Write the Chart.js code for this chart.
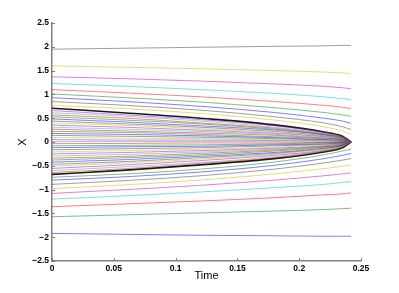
<!DOCTYPE html>
<html>
<head>
<meta charset="utf-8">
<script src="https://cdn.jsdelivr.net/npm/chart.js@4.4.1/dist/chart.umd.min.js"></script>
<style>
  html, body { margin: 0; padding: 0; background: #fff; }
  #wrap { width: 399px; height: 293px; }
</style>
</head>
<body>
<div id="wrap"><canvas id="chart"></canvas></div>
<script>
// sample times read along the time axis
const times = [0, 0.06, 0.12, 0.18, 0.22, 0.235, 0.242];

// paths below the black curve (bottom -> up)
const outerBottom = [
  [-1.92, -1.94, -1.96, -1.97, -1.98, -1.98, -1.98],
  [-1.57, -1.53, -1.49, -1.45, -1.42, -1.40, -1.39],
  [-1.36, -1.30, -1.24, -1.17, -1.11, -1.09, -1.07],
  [-1.20, -1.13, -1.05, -0.96, -0.89, -0.85, -0.83],
  [-1.08, -1.00, -0.91, -0.80, -0.71, -0.67, -0.65],
  [-0.98, -0.90, -0.80, -0.67, -0.56, -0.51, -0.48],
  [-0.89, -0.81, -0.71, -0.57, -0.44, -0.38, -0.35],
  [-0.80, -0.73, -0.63, -0.49, -0.35, -0.28, -0.24],
  [-0.74, -0.67, -0.57, -0.42, -0.27, -0.19, -0.15],
];

// paths inside the black curve, all meeting at the tip
const inner = [
  [-0.64, -0.56, -0.45, -0.33, -0.19, -0.11, 0],
  [-0.60, -0.52, -0.43, -0.31, -0.18, -0.10, 0],
  [-0.555, -0.48, -0.39, -0.28, -0.17, -0.09, 0],
  [-0.51, -0.44, -0.36, -0.26, -0.15, -0.09, 0],
  [-0.47, -0.41, -0.33, -0.24, -0.14, -0.08, 0],
  [-0.425, -0.37, -0.30, -0.22, -0.13, -0.07, 0],
  [-0.38, -0.33, -0.27, -0.19, -0.11, -0.06, 0],
  [-0.34, -0.30, -0.24, -0.17, -0.10, -0.06, 0],
  [-0.295, -0.26, -0.21, -0.15, -0.09, -0.05, 0],
  [-0.25, -0.22, -0.18, -0.13, -0.08, -0.04, 0],
  [-0.21, -0.18, -0.15, -0.11, -0.06, -0.04, 0],
  [-0.165, -0.14, -0.12, -0.08, -0.05, -0.03, 0],
  [-0.12, -0.10, -0.09, -0.06, -0.04, -0.02, 0],
  [-0.08, -0.07, -0.06, -0.04, -0.02, -0.01, 0],
  [-0.035, -0.03, -0.02, -0.02, -0.01, -0.01, 0],
  [0.01, 0.01, 0.01, 0.01, 0.00, 0.00, 0],
  [0.05, 0.04, 0.04, 0.03, 0.02, 0.01, 0],
  [0.095, 0.08, 0.07, 0.05, 0.03, 0.02, 0],
  [0.14, 0.12, 0.10, 0.07, 0.04, 0.02, 0],
  [0.18, 0.16, 0.13, 0.09, 0.05, 0.03, 0],
  [0.225, 0.20, 0.16, 0.11, 0.07, 0.04, 0],
  [0.27, 0.23, 0.19, 0.14, 0.08, 0.05, 0],
  [0.31, 0.27, 0.22, 0.16, 0.09, 0.05, 0],
  [0.355, 0.31, 0.25, 0.18, 0.11, 0.06, 0],
  [0.40, 0.35, 0.28, 0.20, 0.12, 0.07, 0],
  [0.44, 0.38, 0.31, 0.22, 0.13, 0.07, 0],
  [0.485, 0.42, 0.34, 0.25, 0.15, 0.08, 0],
  [0.53, 0.46, 0.38, 0.27, 0.16, 0.09, 0],
  [0.57, 0.50, 0.40, 0.29, 0.17, 0.10, 0],
  [0.615, 0.54, 0.44, 0.31, 0.18, 0.10, 0],
  [0.66, 0.57, 0.47, 0.34, 0.20, 0.11, 0],
];

// paths above the black curve (bottom -> up)
const outerTop = [
  [0.77, 0.70, 0.60, 0.46, 0.32, 0.23, 0.16],
  [0.85, 0.77, 0.67, 0.53, 0.40, 0.32, 0.26],
  [0.93, 0.85, 0.75, 0.62, 0.50, 0.44, 0.39],
  [1.01, 0.93, 0.84, 0.72, 0.62, 0.57, 0.54],
  [1.10, 1.03, 0.95, 0.85, 0.77, 0.73, 0.70],
  [1.23, 1.17, 1.10, 1.02, 0.95, 0.91, 0.89],
  [1.37, 1.33, 1.28, 1.22, 1.17, 1.14, 1.12],
  [1.60, 1.57, 1.54, 1.50, 1.47, 1.45, 1.43],
  [1.95, 1.97, 1.99, 2.01, 2.02, 2.03, 2.03],
];

// the thick black boundary
const boundaryTop = [0.71, 0.61, 0.50, 0.36, 0.21, 0.12, 0];
const boundaryBottom = [-0.68, -0.59, -0.48, -0.35, -0.21, -0.12, 0];

// matlab colour order b g r c m y k, drawn thin so they look faded
const lineColors = [
  'rgba(0,0,255,0.5)',
  'rgba(0,128,0,0.5)',
  'rgba(255,0,0,0.5)',
  'rgba(0,191,191,0.5)',
  'rgba(191,0,191,0.5)',
  'rgba(191,191,0,0.5)',
  'rgba(64,64,64,0.5)',
];

const toPoints = (ys) => ys.map((y, i) => ({ x: times[i], y }));

const paths = [...outerBottom, ...inner, ...outerTop];
const datasets = paths.map((p, i) => ({
  data: toPoints(p),
  borderColor: lineColors[i % lineColors.length],
  borderWidth: 1,
}));
datasets.push(
  { data: toPoints(boundaryTop), borderColor: '#1a1a1a', borderWidth: 1.6 },
  { data: toPoints(boundaryBottom), borderColor: '#1a1a1a', borderWidth: 1.6 }
);

// ticks pointing into the plot, like the original
const innerTicks = {
  id: 'innerTicks',
  afterDraw(chart) {
    const { ctx, chartArea, scales } = chart;
    ctx.save();
    ctx.strokeStyle = '#808080';
    ctx.lineWidth = 1;
    scales.x.ticks.forEach((t) => {
      const px = Math.round(scales.x.getPixelForValue(t.value)) + 0.5;
      ctx.beginPath();
      ctx.moveTo(px, chartArea.bottom);
      ctx.lineTo(px, chartArea.bottom - 3);
      ctx.stroke();
    });
    scales.y.ticks.forEach((t) => {
      const py = Math.round(scales.y.getPixelForValue(t.value)) + 0.5;
      ctx.beginPath();
      ctx.moveTo(chartArea.left, py);
      ctx.lineTo(chartArea.left + 3, py);
      ctx.stroke();
    });
    ctx.restore();
  },
};

const fmt = (v) => {
  const s = String(Math.round(v * 100) / 100);
  return s.replace('-', '\u2212');
};

const tickFont = { family: 'Liberation Sans, Arial, sans-serif', size: 8.5, weight: 'bold' };
const titleFont = { family: 'Liberation Sans, Arial, sans-serif', size: 11 };

new Chart(document.getElementById('chart').getContext('2d'), {
  type: 'line',
  data: { datasets },
  options: {
    responsive: true,
    maintainAspectRatio: false,
    animation: false,
    layout: { padding: { top: 23, right: 38, left: 16, bottom: 10 } },
    elements: {
      point: { radius: 0 },
      line: { cubicInterpolationMode: 'monotone', fill: false },
    },
    plugins: {
      legend: { display: false },
      tooltip: { enabled: false },
    },
    scales: {
      x: {
        type: 'linear',
        min: 0,
        max: 0.25,
        grid: { display: false, drawTicks: false, tickLength: 0 },
        border: { display: true, color: '#808080', width: 1.5 },
        ticks: { stepSize: 0.05, color: '#000', font: tickFont, padding: 3, maxRotation: 0, callback: fmt },
        title: { display: true, text: 'Time', color: '#000', font: titleFont, padding: 0 },
        afterFit(scale) { scale.height = 22; },
      },
      y: {
        min: -2.5,
        max: 2.5,
        grid: { display: false, drawTicks: false, tickLength: 0 },
        border: { display: true, color: '#808080', width: 1.5 },
        ticks: { stepSize: 0.5, color: '#000', font: tickFont, padding: 3, callback: fmt },
        title: { display: true, text: 'X', color: '#000', font: titleFont, padding: 0 },
        afterFit(scale) { scale.width = 36; },
      },
    },
  },
  plugins: [innerTicks],
});
</script>
</body>
</html>
